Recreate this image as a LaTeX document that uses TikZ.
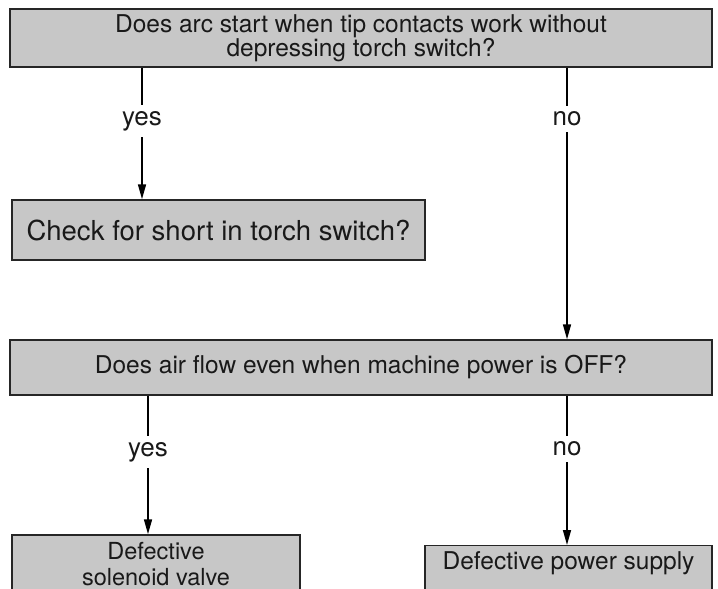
\documentclass[tikz,border=0pt]{standalone}
\usepackage{fontspec}
\setmainfont{TeX Gyre Heros}
\usetikzlibrary{arrows.meta,positioning}

\begin{document}
\begin{tikzpicture}[x=1pt,y=-1pt,
    box/.style={draw=black!85,line width=1.4pt,fill=black!22,inner sep=0pt,
      align=center,text=black!90,font=\fontsize{24.5}{23}\selectfont},
    answer/.style={inner xsep=1pt,inner ysep=6pt,text=black!90,
      font=\fontsize{26}{26}\selectfont},
    wire/.style={line width=1.6pt},
    flow/.style={line width=1.6pt,-{Triangle[length=15pt,width=8pt]}}]
  \useasboundingbox (0,0) rectangle (718,589);
  \clip (0,0) rectangle (718,589);

  % first question
  \node[box,minimum width=702pt,minimum height=58pt] (arcq) at (361,38)
    {Does arc start when tip contacts work without\\depressing torch switch?};
  \node[answer] (yesA) at (142,121) {yes};
  \node[answer] (noA) at (567,119) {no};
  \node[box,minimum width=413pt,minimum height=60pt,
    font=\fontsize{27.5}{30}\selectfont] (short) at (218.5,230)
    {Check for short in torch switch?};

  % second question
  \node[box,minimum width=702pt,minimum height=55pt] (airq) at (361,367.5)
    {Does air flow even when machine power is OFF?};
  \node[answer] (yesB) at (148,452) {yes};
  \node[answer] (noB) at (567,449) {no};
  \node[box,minimum width=288pt,minimum height=58pt,
    font=\fontsize{23.5}{26}\selectfont] (valve) at (156,564)
    {Defective\\solenoid valve};
  \node[box,minimum width=287pt,anchor=north,text height=24pt,text depth=50pt]
    (supply) at (568.5,545) {Defective power supply};

  % connectors
  \draw[wire] (arcq.south -| yesA) -- (yesA.north);
  \draw[flow] (yesA.south) -- (short.north -| yesA);
  \draw[wire] (arcq.south -| noA) -- (noA.north);
  \draw[flow] (noA.south) -- (airq.north -| noA);
  \draw[wire] (airq.south -| yesB) -- (yesB.north);
  \draw[flow] (yesB.south) -- (valve.north -| yesB);
  \draw[wire] (airq.south -| noB) -- (noB.north);
  \draw[flow] (noB.south) -- (supply.north -| noB);
\end{tikzpicture}
\end{document}
